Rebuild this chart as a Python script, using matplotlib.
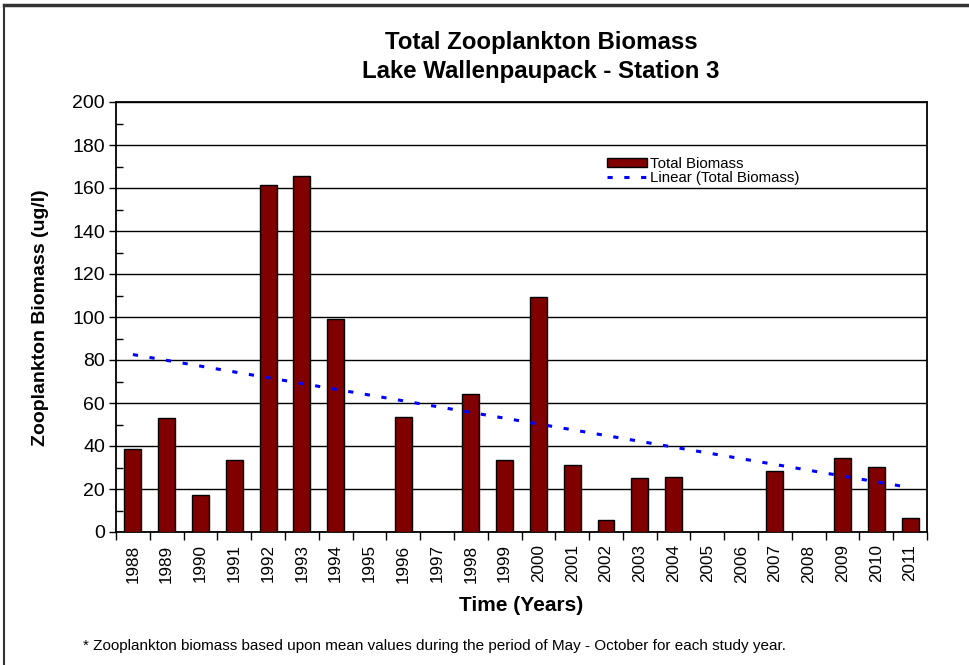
import matplotlib

matplotlib.use("Agg")

import matplotlib.pyplot as plt
import numpy as np
from matplotlib.lines import Line2D
from matplotlib.ticker import MultipleLocator

plt.rcParams["font.family"] = ["Liberation Sans", "DejaVu Sans"]

years = [str(y) for y in range(1988, 2012)]
# None = no sample that year
biomass = [38.7, 52.9, 17.0, 33.7, 161.6, 165.5, 99.0, None, 53.5, None,
           64.3, 33.7, 109.5, 31.1, 5.6, 25.3, 25.7, None, None, 28.4,
           None, 34.2, 30.3, 6.6]

title = "Total Zooplankton Biomass\nLake Wallenpaupack - Station 3"
footnote = ("* Zooplankton biomass based upon mean values during the period "
            "of May - October for each study year.")

W, H = 969, 665
fig = plt.figure(figsize=(W / 100, H / 100), dpi=100)
ax = fig.add_axes([116 / W, 1 - 532 / H, (927 - 116) / W, (532 - 102) / H])

x = np.arange(len(years))
vals = np.array([np.nan if v is None else v for v in biomass])
ax.bar(x, np.nan_to_num(vals), width=0.5, color="#800000", edgecolor="black",
       linewidth=1.0, zorder=3)

# Excel-style linear trendline over the years that have data
ok = ~np.isnan(vals)
slope, icpt = np.polyfit(x[ok] + 1, vals[ok], 1)
ax.plot(x, slope * (x + 1) + icpt, color="#0000ff", linewidth=2.2,
        linestyle=(0, (1.7, 3.8)), zorder=4)

ax.set_xlim(-0.5, len(years) - 0.5)
ax.set_ylim(0, 200)
ax.yaxis.set_major_locator(MultipleLocator(20))
ax.yaxis.set_minor_locator(MultipleLocator(10))
ax.grid(axis="y", which="major", color="black", linewidth=1.0, zorder=1)
ax.tick_params(axis="y", which="major", direction="out", length=5, width=1,
               labelsize=14, pad=3)
ax.tick_params(axis="y", which="minor", direction="in", length=5, width=1)

ax.set_xticks(x)
ax.set_xticklabels(years, rotation=90, fontsize=12.3)
ax.set_xticks(np.arange(len(years) + 1) - 0.5, minor=True)
ax.tick_params(axis="x", which="major", length=0, pad=9)
ax.tick_params(axis="x", which="minor", direction="out", length=6, width=1)

for side in ["left", "right", "top", "bottom"]:
    ax.spines[side].set_color("black")
    ax.spines[side].set_linewidth(1.3)

ax.set_xlabel("Time (Years)", fontsize=15, fontweight="bold")
ax.xaxis.set_label_coords(0.5, -0.148)
ax.set_ylabel("Zooplankton Biomass (ug/l)", fontsize=14, fontweight="bold")
ax.yaxis.set_label_coords(-0.083, 0.498)

fig.text(541 / W, 1 - 57 / H, title, ha="center", va="center", fontsize=17.3,
         fontweight="bold", linespacing=1.3)
fig.text(83 / W, 1 - 646 / H, footnote, ha="left", va="center", fontsize=11)

handles = [
    plt.Rectangle((0, 0), 1, 1, facecolor="#800000", edgecolor="black", linewidth=1),
    Line2D([0], [0], color="#0000ff", linewidth=2.2, linestyle=(0, (1.7, 3.8))),
]
ax.legend(handles, ["Total Biomass", "Linear (Total Biomass)"],
          loc="upper left", bbox_to_anchor=(0.592, 0.897), frameon=False,
          fontsize=10.8, handlelength=2.7, handleheight=0.55,
          labelspacing=0.0, handletextpad=0.2, borderpad=0.2)

# chart-area border (left and top visible in the reference)
fig.add_artist(Line2D([4 / W, 4 / W], [0, 1 - 5 / H], transform=fig.transFigure,
                      color="#333333", linewidth=1.5))
fig.add_artist(Line2D([4 / W, 1], [1 - 5 / H, 1 - 5 / H], transform=fig.transFigure,
                      color="#333333", linewidth=2.5))

fig.savefig("out.png", dpi=100)
plt.close(fig)
